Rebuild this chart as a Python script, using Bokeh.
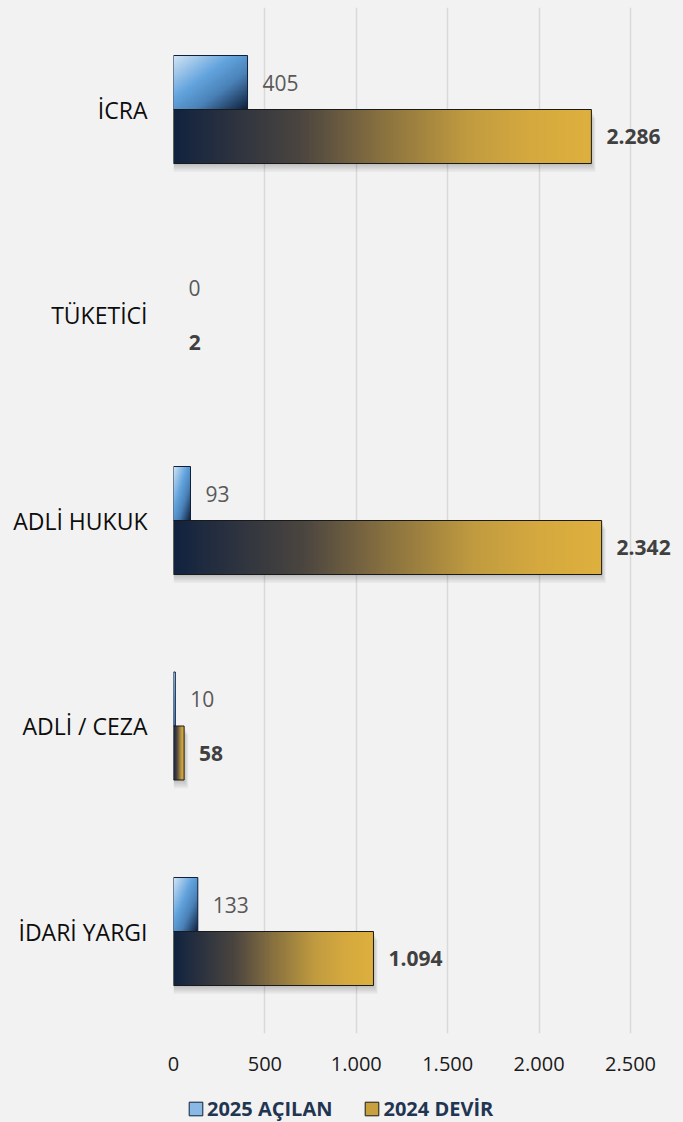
import numpy as np
from bokeh.plotting import figure
from bokeh.layouts import column
from bokeh.models import Range1d, FixedTicker, Legend, LegendItem
from bokeh.core.properties import value
from bokeh.embed import file_html
from bokeh.resources import INLINE

# ---------------- data ----------------
categories = ["İCRA", "TÜKETİCİ", "ADLİ HUKUK", "ADLİ / CEZA", "İDARİ YARGI"]
acilan_2025 = [405, 0, 93, 10, 133]
devir_2024 = [2286, 2, 2342, 58, 1094]
x_ticks = [0, 500, 1000, 1500, 2000, 2500]
series_names = ["2025 AÇILAN", "2024 DEVİR"]


def tr(n):
    return f"{n:,}".replace(",", ".")


# ---------------- layout ----------------
W = 683
H_MAIN, H_LEG = 1084, 38
LEFT, TOP, BOTTOM = 173, 7, 51
frame_w = W - LEFT
frame_h = H_MAIN - TOP - BOTTOM
PX_X = 2500 / 457.0          # data units per pixel (x)
PX_Y = 1 / 205.5             # data units per pixel (y)
X_END = frame_w * PX_X
Y_END = 4 + 102 * PX_Y
Y_START = Y_END - frame_h * PX_Y
BAR_H = 54 * PX_Y

n = len(categories)
pos = [n - 1 - i for i in range(n)]  # first category on top

BG = "#f2f2f2"
FONT = "Open Sans"
BLUE_SOLID, GOLD_SOLID = "#7fb2e2", "#c9a040"
BLUE_EDGE, GOLD_EDGE = "#10203a", "#1a1a1a"

p = figure(width=W, height=H_MAIN, x_range=Range1d(0, X_END),
           y_range=Range1d(Y_START, Y_END),
           output_backend="svg", toolbar_location=None,
           min_border_left=LEFT, min_border_right=0, min_border_top=TOP,
           min_border_bottom=BOTTOM)
p.background_fill_color = BG
p.border_fill_color = BG
p.outline_line_color = None

# grid
p.xgrid.ticker = FixedTicker(ticks=x_ticks)
p.xgrid.grid_line_color = "#d9d9d9"
p.xgrid.grid_line_width = 1.5
p.ygrid.grid_line_color = None

# x axis
p.xaxis.ticker = FixedTicker(ticks=x_ticks)
p.xaxis.major_label_overrides = {t: tr(t) for t in x_ticks}
p.xaxis.axis_line_color = None
p.xaxis.major_tick_line_color = None
p.xaxis.minor_tick_line_color = None
p.xaxis.major_tick_out = 0
p.xaxis.major_tick_in = 0
p.xaxis.major_label_standoff = 23
p.xaxis.major_label_text_font = FONT
p.xaxis.major_label_text_font_size = "20px"
p.xaxis.major_label_text_color = "#1a1a1a"

# y axis
p.yaxis.ticker = FixedTicker(ticks=pos)
p.yaxis.major_label_overrides = {pos[i]: categories[i] for i in range(n)}
p.yaxis.axis_line_color = None
p.yaxis.major_tick_line_color = None
p.yaxis.minor_tick_line_color = None
p.yaxis.major_tick_out = 0
p.yaxis.major_tick_in = 0
p.yaxis.major_label_standoff = 26
p.yaxis.major_label_text_font = FONT
p.yaxis.major_label_text_font_size = "23px"
p.yaxis.major_label_text_color = "#0d0d0d"

y_blue = [pp + BAR_H / 2 for pp in pos]
y_gold = [pp - BAR_H / 2 for pp in pos]
vis_blue = [v / PX_X >= 1 for v in acilan_2025]
vis_gold = [v / PX_X >= 1 for v in devir_2024]

# ---------------- shadows under gold bars ----------------
for k in range(1, 7):
    p.hbar(y=[yy - k * 1.4 * PX_Y for yy in y_gold], height=BAR_H,
           left=0,
           right=[v + k * 0.7 * PX_X if ok else 0 for v, ok in zip(devir_2024, vis_gold)],
           fill_color="black", fill_alpha=0.035, line_color=None)

# ---------------- base bars ----------------
p.hbar(y=y_blue, height=BAR_H, left=0, right=acilan_2025,
       fill_color=BLUE_SOLID, fill_alpha=[1 if ok else 0 for ok in vis_blue],
       line_color=None)
p.hbar(y=y_gold, height=BAR_H, left=0, right=devir_2024,
       fill_color=GOLD_SOLID, fill_alpha=[1 if ok else 0 for ok in vis_gold],
       line_color=None)


# ---------------- gradient fills ----------------
def interp_stops(t, stops):
    ts = [s[0] for s in stops]
    out = np.zeros(t.shape + (4,), dtype=np.uint8)
    for c in range(3):
        chan = [int(s[1][1 + 2 * c:3 + 2 * c], 16) for s in stops]
        out[..., c] = np.clip(np.interp(t, ts, chan), 0, 255).astype(np.uint8)
    out[..., 3] = 255
    return out


gold_stops = [(0.0, "#12233f"), (0.3, "#4b4540"), (0.5, "#8a7240"),
              (0.7, "#c09b3f"), (0.85, "#d5a93f"), (1.0, "#deb03e")]
blue_stops = [(0.0, "#d2e4f5"), (0.4, "#63a4de"), (0.65, "#4a82b8"),
              (1.0, "#0f1f3b")]


def to_rgba32(arr):
    ny, nx = arr.shape[:2]
    return np.ascontiguousarray(arr).view(np.uint32).reshape(ny, nx)


gold_imgs, gold_x, gold_y, gold_dw, gold_dh = [], [], [], [], []
u = np.linspace(0, 1, 256)[None, :]
for i, v in enumerate(devir_2024):
    if not vis_gold[i]:
        continue
    gold_imgs.append(to_rgba32(interp_stops(np.repeat(u, 2, axis=0), gold_stops)))
    gold_x.append(0)
    gold_y.append(y_gold[i] - BAR_H / 2)
    gold_dw.append(v)
    gold_dh.append(BAR_H)
p.image_rgba(image=gold_imgs, x=gold_x, y=gold_y, dw=gold_dw, dh=gold_dh)

blue_imgs, blue_x, blue_y, blue_dw, blue_dh = [], [], [], [], []
uu, vv = np.meshgrid(np.linspace(0, 1, 96), np.linspace(0, 1, 64))
tt = (uu + (1 - vv)) / 2.0  # row 0 = bottom; top-left light, bottom-right dark
for i, v in enumerate(acilan_2025):
    if not vis_blue[i]:
        continue
    blue_imgs.append(to_rgba32(interp_stops(tt, blue_stops)))
    blue_x.append(0)
    blue_y.append(y_blue[i] - BAR_H / 2)
    blue_dw.append(v)
    blue_dh.append(BAR_H)
p.image_rgba(image=blue_imgs, x=blue_x, y=blue_y, dw=blue_dw, dh=blue_dh)

# outlines on top
p.hbar(y=y_blue, height=BAR_H, left=0, right=acilan_2025, fill_alpha=0,
       line_color=BLUE_EDGE, line_width=1,
       line_alpha=[1 if ok else 0 for ok in vis_blue])
p.hbar(y=y_gold, height=BAR_H, left=0, right=devir_2024, fill_alpha=0,
       line_color=GOLD_EDGE, line_width=1,
       line_alpha=[1 if ok else 0 for ok in vis_gold])

# ---------------- value labels ----------------
p.text(x=acilan_2025, y=y_blue, text=[tr(v) for v in acilan_2025],
       x_offset=15, text_baseline="middle", text_align="left",
       text_font=value(FONT), text_font_size="21px", text_color="#595959")
p.text(x=devir_2024, y=y_gold, text=[tr(v) for v in devir_2024],
       x_offset=15, text_baseline="middle", text_align="left",
       text_font=value(FONT), text_font_size="21px", text_font_style="bold",
       text_color="#404040")

# ---------------- legend (separate strip below, frames are aligned) ----------------
leg = figure(width=W, height=H_LEG, x_range=Range1d(0, 1), y_range=Range1d(0, 1),
             output_backend="svg", toolbar_location=None,
             x_axis_type=None, y_axis_type=None,
             min_border_left=0, min_border_right=0, min_border_top=0,
             min_border_bottom=0)
leg.background_fill_color = BG
leg.border_fill_color = BG
leg.outline_line_color = None
leg.grid.visible = False
# legend proxies: one item each, placed outside the visible range
lr_blue = leg.hbar(y=[-5], height=1, left=[0], right=[1], fill_color="#8ab9e6",
                   line_color=BLUE_EDGE, line_width=1)
lr_gold = leg.hbar(y=[-5], height=1, left=[0], right=[1], fill_color=GOLD_SOLID,
                   line_color=GOLD_EDGE, line_width=1)
legend = Legend(items=[LegendItem(label=series_names[0], renderers=[lr_blue]),
                       LegendItem(label=series_names[1], renderers=[lr_gold])],
                orientation="horizontal", location=(14, 0),
                glyph_width=17, glyph_height=17, label_standoff=3, spacing=31,
                padding=0, margin=0, border_line_alpha=0,
                background_fill_alpha=0,
                label_text_font=FONT, label_text_font_size="20px",
                label_text_font_style="bold", label_text_color="#1f3552")
leg.add_layout(legend, "center")

layout = column(p, leg, spacing=0, styles={"background-color": BG})
open("out.html", "w").write(file_html(layout, INLINE))
